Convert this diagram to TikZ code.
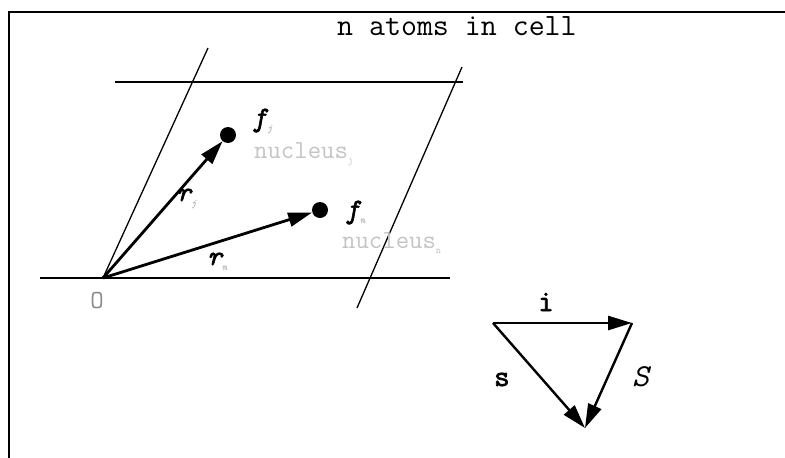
\documentclass[tikz,border=0pt]{standalone}
\usepackage{fontspec}
\newfontfamily\labelfont{Latin Modern Mono}[FakeBold=2.2]
\usetikzlibrary{arrows.meta, positioning}
\definecolor{inkblack}{HTML}{000000}
\definecolor{faintgray}{HTML}{C4C4C4}
\definecolor{origingray}{HTML}{8A8A8A}
\newcommand{\faintsub}[1]{\textcolor{faintgray}{\fontsize{10}{10}\selectfont\raisebox{-5pt}{#1}}}

\begin{document}
\begin{tikzpicture}[x=1pt, y=-1pt,
    cellline/.style={line width=1.3pt, inkblack},
    edgeline/.style={line width=2.4pt, inkblack},
    vec/.style={line width=2.8pt, inkblack, -{Triangle[length=24pt, width=14pt]}},
    atom/.style={circle, fill=inkblack, inner sep=0pt, minimum size=16pt},
    lbl/.style={font=\fontsize{28}{28}\selectfont\labelfont\itshape, inner sep=0pt},
    nucl/.style={font=\fontsize{26}{26}\selectfont\ttfamily, text=faintgray, inner sep=0pt}]
  \useasboundingbox (0,0) rectangle (785,458);
  % frame
  \draw[line width=2pt] (785,12) -- (9,12) -- (9,458);
  \node[font=\fontsize{31}{31}\selectfont\ttfamily, anchor=base west, inner sep=0pt]
    (title) at (337,35) {n atoms in cell};

  % unit cell
  \coordinate (O) at (103,278);
  \draw[edgeline] (115,82) -- (463,82);
  \draw[edgeline] (40,278) -- (450,278);
  \draw[cellline] (208,48) -- (O);
  \draw[cellline] (462,67) -- (357,308);
  \node[font=\fontsize{26}{26}\selectfont\ttfamily, text=origingray] (olabel) at (97,301) {O};

  % atoms and position vectors
  \node[atom] (atomj) at (228,135) {};
  \node[atom] (atomn) at (320,210) {};
  \draw[vec] (O) -- (atomj);
  \draw[vec] (O) -- (atomn);
  \node[lbl, anchor=base west] (fj) at (252,126) {f\faintsub{j}};
  \node[lbl, anchor=base west] (fn) at (345,218) {f\faintsub{n}};
  \node[lbl, anchor=base west] (rj) at (176,201) {r\faintsub{j}};
  \node[lbl, anchor=base west] (rn) at (207,265) {r\faintsub{n}};
  \node[nucl, anchor=base west] (nucj) at (254,158) {nucleus\faintsub{j}};
  \node[nucl, anchor=base west] (nucn) at (342,248) {nucleus\faintsub{n}};

  % scattering triangle
  \coordinate (ti) at (493,323);
  \coordinate (tr) at (632,323);
  \coordinate (tb) at (585,428);
  \draw[vec, line width=2.6pt] (ti) -- (tr);
  \draw[vec, line width=2.4pt] (ti) -- (tb);
  \draw[vec, line width=2.4pt] (tr) -- (tb);
  \node[lbl, font=\fontsize{30}{30}\selectfont\labelfont, anchor=base west] (ilabel) at (538,311) {i};
  \node[lbl, font=\fontsize{30}{30}\selectfont\labelfont, anchor=base west] (slabel) at (494,386) {s};
  \node[lbl, font=\fontsize{32}{32}\selectfont\ttfamily\itshape, anchor=base west] (Slabel) at (632,386) {S};
\end{tikzpicture}
\end{document}
